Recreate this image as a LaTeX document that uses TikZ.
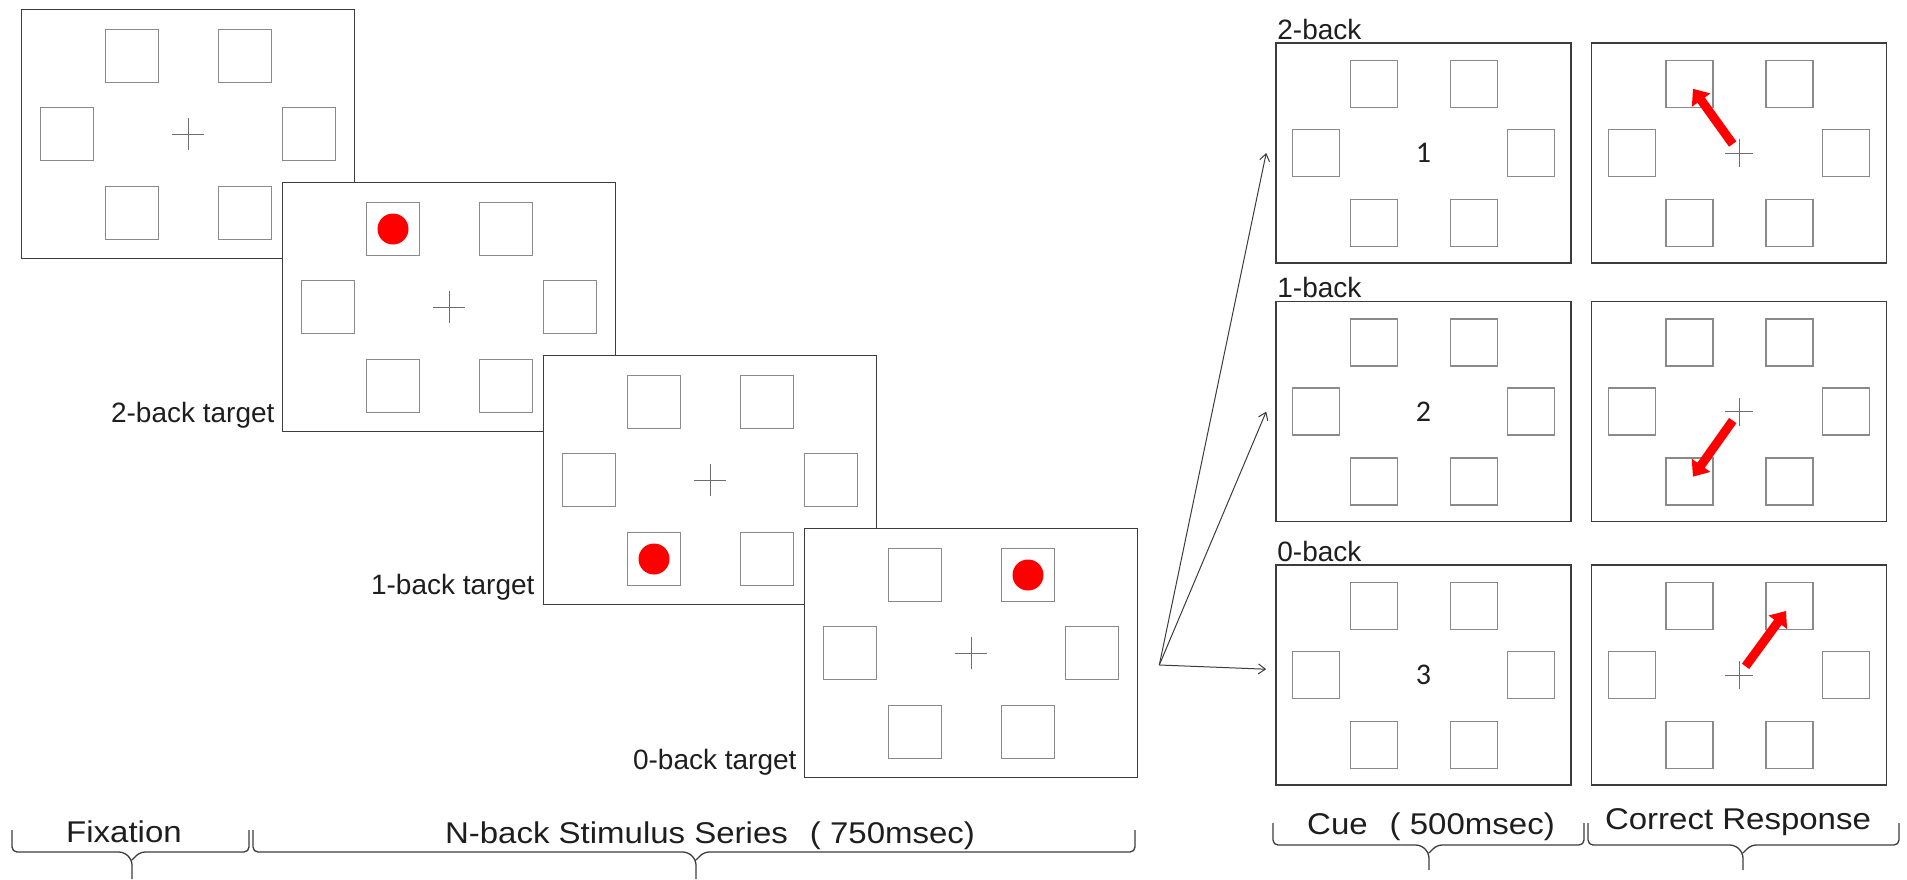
\documentclass[tikz,border=0pt]{standalone}
\usepackage{fontspec}
\setmainfont{Liberation Sans}
\newfontfamily\widefont[FakeStretch=1.1]{Liberation Sans}
\newfontfamily\digitfont{Carlito}
\usepackage{tikz}
\usetikzlibrary{positioning}
\usetikzlibrary{arrows.meta}
\definecolor{framegray}{HTML}{3C3C3C}
\definecolor{cellgray}{HTML}{8A8A8A}
\definecolor{crossgray}{HTML}{6E6E6E}
\definecolor{inkgray}{HTML}{1E1E1E}
\tikzset{screen/.style={rectangle,draw=framegray,fill=white,line width=1.6pt,
inner sep=0pt,minimum width=333pt,minimum height=249pt}}
\tikzset{cuescreen/.style={screen,minimum width=295pt,minimum height=220pt}}
\tikzset{cell/.style={rectangle,draw=cellgray,line width=1.3pt,inner sep=0pt}}
\tikzset{dot/.style={circle,draw=none,fill=red,inner sep=0pt,minimum size=31pt}}
\tikzset{crossline/.style={draw=crossgray,line width=1pt}}
\tikzset{tgtlabel/.style={font=\fontsize{28}{32}\selectfont,text=inkgray,inner sep=0pt}}
\tikzset{phaselabel/.style={font=\widefont\fontsize{30}{34}\selectfont,text=inkgray,
inner sep=0pt,anchor=base}}
\tikzset{cuedigit/.style={font=\digitfont\fontsize{30}{34}\selectfont,text=inkgray,inner sep=0pt}}
\tikzset{cuearrow/.style={draw=framegray,line width=1pt,-{Straight Barb[length=7pt,width=10pt]}}}
\tikzset{resparrow/.style={draw=red,line width=9pt,-{Triangle[length=14pt,width=22pt]},
shorten <=11pt,shorten >=6pt}}
\tikzset{timebrace/.style={draw=framegray,line width=1.3pt,rounded corners=5pt}}

% six boxes round the centre of screen #1, scaled by #2
\newcommand{\stimcells}[2]{%
  \foreach \dx/\dy [count=\i] in {-56/-78,57/-78,-121/0,121/0,-56/79,57/79}
    \node[cell,minimum size=#2*53pt] (#1-\i) at ([shift={(#2*\dx,#2*\dy)}]#1.center) {};
}
% fixation cross in screen #1, half arm #2
\newcommand{\fixcross}[2]{%
  \draw[crossline] ([xshift=-#2]#1.center) -- ([xshift=#2]#1.center)
    ([yshift=-#2]#1.center) -- ([yshift=#2]#1.center);
}
% brace: left x, right x, tip x, line y, stem end y
\newcommand{\timebrace}[5]{%
  \draw[timebrace] (#1,#4-22) -- (#1,#4) -- (#3-8,#4) -- (#3,#4+8) -- (#3,#5)
    (#3,#4+8) -- (#3+8,#4) -- (#2,#4) -- (#2,#4-22);
}

\begin{document}
\begin{tikzpicture}[x=1pt,y=-1pt]
    \useasboundingbox (0,0) rectangle (1907,879);

    % stimulus series, each screen laid over the previous one
    \node[screen] (fix) at (188,134) {};
    \stimcells{fix}{1}
    \fixcross{fix}{16pt}

    \node[screen] (tgt2) at ([shift={(261,173)}]fix) {};
    \stimcells{tgt2}{1}
    \fixcross{tgt2}{16pt}
    \node[dot] (dot2) at (tgt2-1) {};
    \node[tgtlabel,anchor=base east] (lab2) at ([xshift=-7pt,yshift=10pt]tgt2.south west) {2-back target};

    \node[screen] (tgt1) at ([shift={(261,173)}]tgt2) {};
    \stimcells{tgt1}{1}
    \fixcross{tgt1}{16pt}
    \node[dot] (dot1) at (tgt1-5) {};
    \node[tgtlabel,anchor=base east] (lab1) at ([xshift=-8pt,yshift=11pt]tgt1.south west) {1-back target};

    \node[screen] (tgt0) at ([shift={(261,173)}]tgt1) {};
    \stimcells{tgt0}{1}
    \fixcross{tgt0}{16pt}
    \node[dot] (dot0) at (tgt0-2) {};
    \node[tgtlabel,anchor=base east] (lab0) at ([xshift=-7pt,yshift=9pt]tgt0.south west) {0-back target};

    % cue and response screens
    \node[cuescreen] (cue1) at (1423.5,153) {};
    \node[cuescreen] (resp1) [right=19pt of cue1] {};
    \node[cuescreen] (cue2) [below=37pt of cue1] {};
    \node[cuescreen] (resp2) [right=19pt of cue2] {};
    \node[cuescreen] (cue3) [below=42pt of cue2] {};
    \node[cuescreen] (resp3) [right=19pt of cue3] {};

    \stimcells{cue1}{0.886}
    \stimcells{cue2}{0.886}
    \stimcells{cue3}{0.886}
    \node[cuedigit] (num1) at (cue1) {1};
    \node[cuedigit] (num2) at (cue2) {2};
    \node[cuedigit] (num3) at (cue3) {3};
    \node[tgtlabel,anchor=base west] (cl1) at ([xshift=2pt,yshift=3pt]cue1.north west) {2-back};
    \node[tgtlabel,anchor=base west] (cl2) at ([xshift=2pt,yshift=3pt]cue2.north west) {1-back};
    \node[tgtlabel,anchor=base west] (cl3) at ([xshift=2pt,yshift=3pt]cue3.north west) {0-back};

    \stimcells{resp1}{0.886}
    \stimcells{resp2}{0.886}
    \stimcells{resp3}{0.886}
    \fixcross{resp1}{14pt}
    \fixcross{resp2}{14pt}
    \fixcross{resp3}{14pt}
    \draw[resparrow] (resp1.center) -- (resp1-1.center);
    \draw[resparrow] (resp2.center) -- (resp2-5.center);
    \draw[resparrow] (resp3.center) -- (resp3-2.center);

    % fan out to the three cues
    \coordinate (fork) at ([xshift=21pt,yshift=-12pt]tgt0.east);
    \draw[cuearrow] (fork) -- ([xshift=-9pt]cue1.west);
    \draw[cuearrow] (fork) -- ([xshift=-9pt]cue2.west);
    \draw[cuearrow] (fork) -- ([xshift=-9pt,yshift=6pt]cue3.west);

    % phases along the time line
    \node[phaselabel] (phfix) at (124,842) {Fixation};
    \node[phaselabel] (phstim) at (710,843) {N-back Stimulus Series\hspace{22pt}( 750msec)};
    \node[phaselabel] (phcue) at (1431,834) {Cue\hspace{22pt}( 500msec)};
    \node[phaselabel] (phresp) at (1738,829) {Correct Response};
    \timebrace{12}{249}{132}{852}{879}
    \timebrace{253}{1135}{696}{852}{879}
    \timebrace{1273}{1584}{1429}{845}{870}
    \timebrace{1588}{1899}{1743}{845}{870}

\end{tikzpicture}
\end{document}
